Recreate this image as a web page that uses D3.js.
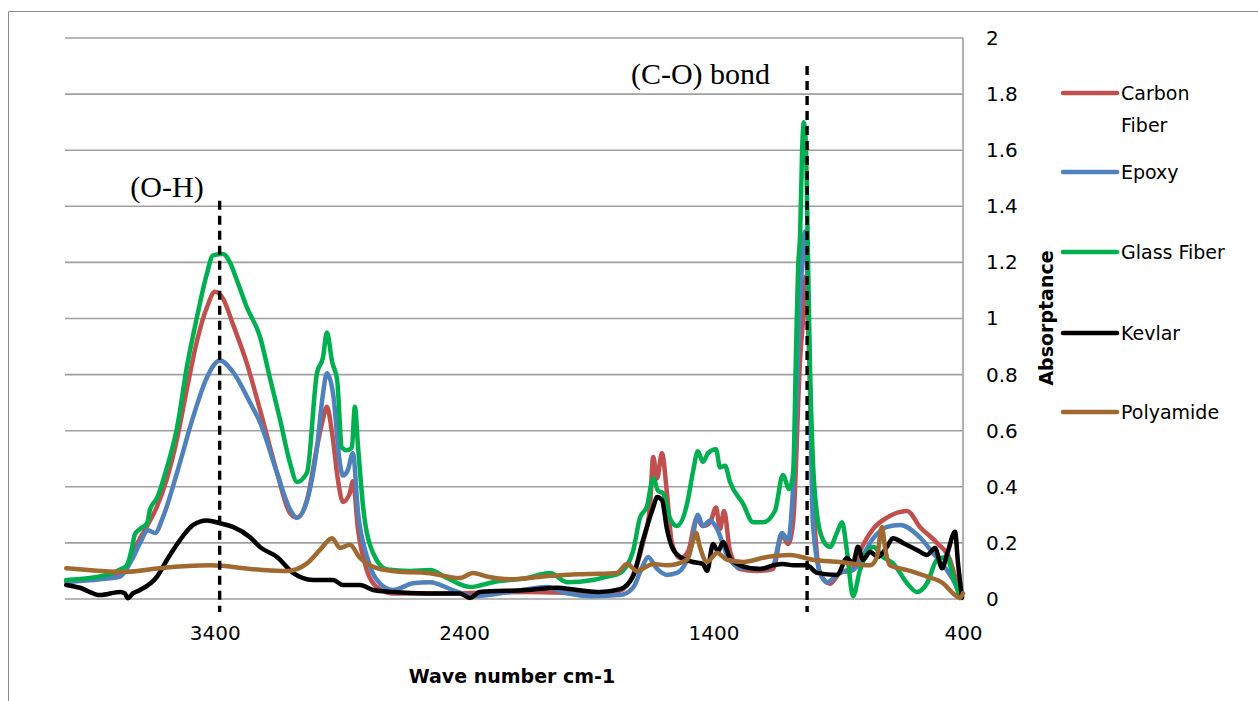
<!DOCTYPE html>
<html>
<head>
<meta charset="utf-8">
<script src="https://cdn.jsdelivr.net/npm/d3@7"></script>
<style>
  html, body { margin: 0; padding: 0; background: #fff; }
  svg { display: block; }
</style>
</head>
<body>
<svg id="chart" width="1258" height="701"></svg>
<script>
// ---------------- DATA ----------------
const seriesNames = ["Carbon Fiber", "Epoxy", "Glass Fiber", "Kevlar", "Polyamide"];
const seriesColors = ["#C0504D", "#4F81BD", "#00B050", "#000000", "#A0692F"];
const xTicks = [3400, 2400, 1400, 400];
const yTicks = [0, 0.2, 0.4, 0.6, 0.8, 1, 1.2, 1.4, 1.6, 1.8, 2];
const yTickLabels = ["0", "0.2", "0.4", "0.6", "0.8", "1", "1.2", "1.4", "1.6", "1.8", "2"];
const annotations = [
  { label: "(O-H)", wave: 3380, top: 1.42, labelAt: 1.433 },
  { label: "(C-O) bond", wave: 1025, top: 1.9, labelAt: 1.836 }
];

// [wave number, absorptance]
const carbonFiber = [
  [3995,0.065],[3860,0.075],[3779,0.09],[3752,0.11],[3720,0.18],[3671,0.26],[3631,0.33],[3591,0.43],
  [3551,0.57],[3511,0.75],[3471,0.92],[3431,1.04],[3399,1.095],[3366,1.07],[3327,0.98],[3271,0.84],
  [3218,0.674],[3150,0.45],[3098,0.306],[3070,0.29],[3030,0.353],[2990,0.54],[2966,0.64],[2950,0.685],
  [2929,0.59],[2905,0.42],[2886,0.346],[2858,0.378],[2846,0.42],[2825,0.245],[2789,0.1],[2750,0.043],
  [2685,0.02],[2496,0.02],[2148,0.025],[1855,0.02],[1775,0.03],[1723,0.085],[1683,0.2],[1655,0.33],
  [1642,0.506],[1626,0.43],[1607,0.52],[1587,0.38],[1567,0.2],[1534,0.146],[1502,0.17],[1467,0.288],
  [1443,0.26],[1414,0.274],[1390,0.326],[1374,0.25],[1358,0.314],[1334,0.17],[1294,0.107],[1226,0.1],
  [1162,0.107],[1126,0.228],[1101,0.196],[1081,0.274],[1053,0.856],[1041,1.0],[1030,1.15],[1018,0.9],
  [1002,0.40],[973,0.093],[933,0.054],[894,0.093],[841,0.11],[813,0.17],[760,0.25],[705,0.29],
  [624,0.314],[573,0.257],[504,0.2],[452,0.14],[424,0.056],[404,0.008]
];
const epoxy = [
  [3995,0.06],[3860,0.07],[3779,0.08],[3732,0.14],[3699,0.2],[3667,0.245],[3639,0.235],[3608,0.29],
  [3551,0.45],[3486,0.65],[3431,0.79],[3379,0.85],[3327,0.81],[3258,0.70],[3218,0.63],[3150,0.45],
  [3098,0.32],[3070,0.29],[3030,0.35],[2990,0.54],[2966,0.73],[2950,0.805],[2925,0.73],[2898,0.485],
  [2886,0.44],[2866,0.46],[2846,0.52],[2825,0.306],[2789,0.15],[2750,0.068],[2685,0.032],[2605,0.056],
  [2537,0.06],[2445,0.032],[2364,0.01],[2216,0.025],[2067,0.043],[1988,0.02],[1884,0.01],[1775,0.014],
  [1723,0.04],[1683,0.12],[1663,0.15],[1626,0.107],[1587,0.086],[1547,0.093],[1494,0.17],[1463,0.3],
  [1443,0.26],[1414,0.28],[1386,0.25],[1346,0.157],[1294,0.112],[1214,0.107],[1162,0.12],[1126,0.235],
  [1101,0.21],[1081,0.4],[1053,1.05],[1034,1.31],[1014,0.79],[1002,0.274],[973,0.093],[945,0.06],
  [894,0.093],[841,0.103],[760,0.217],[705,0.257],[652,0.264],[573,0.22],[520,0.164],[465,0.103],
  [424,0.043],[404,0.008]
];
const glassFiber = [
  [3995,0.068],[3860,0.08],[3779,0.105],[3752,0.12],[3732,0.18],[3720,0.23],[3699,0.25],[3671,0.27],
  [3659,0.32],[3631,0.36],[3591,0.47],[3551,0.61],[3511,0.83],[3471,1.005],[3431,1.16],[3407,1.225],
  [3366,1.23],[3339,1.20],[3311,1.137],[3271,1.04],[3218,0.934],[3179,0.79],[3138,0.64],[3098,0.485],
  [3070,0.417],[3030,0.45],[2990,0.805],[2966,0.86],[2950,0.95],[2929,0.845],[2909,0.78],[2890,0.54],
  [2870,0.53],[2850,0.54],[2838,0.685],[2825,0.54],[2805,0.33],[2765,0.164],[2709,0.105],[2617,0.10],
  [2537,0.103],[2469,0.075],[2376,0.043],[2284,0.06],[2148,0.075],[2055,0.093],[1988,0.06],[1884,0.068],
  [1827,0.08],[1775,0.093],[1723,0.17],[1695,0.29],[1667,0.33],[1642,0.43],[1622,0.385],[1603,0.378],
  [1575,0.288],[1547,0.26],[1506,0.34],[1482,0.456],[1463,0.527],[1443,0.489],[1422,0.52],[1390,0.534],
  [1374,0.469],[1354,0.475],[1334,0.417],[1282,0.34],[1242,0.274],[1201,0.274],[1154,0.314],[1122,0.442],
  [1097,0.392],[1081,0.45],[1069,0.9],[1061,1.18],[1053,1.30],[1045,1.60],[1038,1.70],[1030,1.62],
  [1022,1.25],[1014,0.85],[1002,0.5],[985,0.3],[961,0.21],[933,0.186],[905,0.237],[885,0.274],
  [865,0.17],[841,0.01],[813,0.103],[785,0.164],[760,0.186],[721,0.15],[681,0.128],[624,0.056],
  [585,0.025],[544,0.056],[504,0.14],[465,0.15],[440,0.08],[412,0.004]
];
const kevlar = [
  [3995,0.05],[3940,0.04],[3860,0.014],[3779,0.025],[3760,0.02],[3748,0.003],[3728,0.02],[3699,0.032],
  [3631,0.08],[3591,0.14],[3539,0.21],[3486,0.264],[3431,0.28],[3379,0.27],[3327,0.257],[3258,0.22],
  [3218,0.185],[3150,0.15],[3086,0.093],[3006,0.068],[2925,0.068],[2886,0.05],[2817,0.05],[2765,0.032],
  [2685,0.025],[2549,0.02],[2417,0.02],[2376,0.004],[2337,0.025],[2148,0.032],[2028,0.04],[1947,0.032],
  [1855,0.025],[1775,0.035],[1723,0.08],[1683,0.21],[1642,0.326],[1626,0.364],[1607,0.353],[1587,0.25],
  [1567,0.186],[1534,0.15],[1482,0.132],[1443,0.125],[1426,0.1],[1402,0.196],[1382,0.17],[1362,0.203],
  [1334,0.146],[1294,0.12],[1214,0.107],[1162,0.12],[1122,0.125],[1081,0.12],[1026,0.12],[985,0.093],
  [905,0.086],[865,0.146],[841,0.128],[821,0.186],[801,0.14],[772,0.168],[741,0.15],[705,0.186],
  [681,0.217],[640,0.2],[585,0.175],[544,0.157],[512,0.182],[484,0.11],[461,0.168],[432,0.24],
  [420,0.128],[404,0.004]
];
const polyamide = [
  [3995,0.11],[3752,0.097],[3620,0.11],[3419,0.12],[3218,0.104],[3110,0.10],[3030,0.127],[2978,0.175],
  [2929,0.217],[2898,0.182],[2858,0.193],[2817,0.146],[2750,0.11],[2657,0.097],[2549,0.093],[2417,0.075],
  [2364,0.093],[2309,0.08],[2216,0.07],[2084,0.08],[2016,0.085],[1907,0.089],[1787,0.093],[1747,0.125],
  [1707,0.1],[1642,0.125],[1587,0.12],[1506,0.14],[1486,0.196],[1470,0.235],[1455,0.186],[1426,0.132],
  [1386,0.164],[1346,0.14],[1282,0.132],[1185,0.15],[1093,0.157],[1002,0.14],[894,0.132],[772,0.12],
  [745,0.15],[725,0.257],[713,0.186],[693,0.12],[624,0.103],[544,0.08],[480,0.056],[440,0.02],
  [412,0.004],[400,0.02]
];
const seriesData = [carbonFiber, epoxy, glassFiber, kevlar, polyamide];

// ---------------- CHART ----------------
const SANS = "'DejaVu Sans', sans-serif";
const SERIF = "'Liberation Serif', 'Times New Roman', serif";
const svg = d3.select("#chart");
const x = d3.scaleLinear().domain([4000, 400]).range([65, 963]);
const y = d3.scaleLinear().domain([0, 2]).range([599, 38]);

// outer chart border
svg.append("path")
  .attr("d", "M8.5,701 L8.5,11.5 L1258,11.5")
  .attr("fill", "none").attr("stroke", "#8c8c8c").attr("stroke-width", 1);

// gridlines
svg.append("g").selectAll("line").data(yTicks).join("line")
  .attr("x1", x(4000)).attr("x2", x(400))
  .attr("y1", d => y(d)).attr("y2", d => y(d))
  .attr("stroke", "#a0a0a0").attr("stroke-width", 1.6);

// right plot border
svg.append("line")
  .attr("x1", x(400)).attr("x2", x(400)).attr("y1", y(2)).attr("y2", y(0))
  .attr("stroke", "#a0a0a0").attr("stroke-width", 1.6);

// y-axis labels (right side)
const yAxis = d3.axisRight(y).tickValues(yTicks).tickSize(0).tickPadding(23)
  .tickFormat((d, i) => yTickLabels[i]);
const gy = svg.append("g").attr("transform", `translate(${x(400)},0)`).call(yAxis);
gy.select(".domain").remove();
gy.selectAll("text").style("font-family", SANS).style("font-size", "20px").attr("fill", "#000");

// x-axis labels
const xAxis = d3.axisBottom(x).tickValues(xTicks).tickSize(0).tickPadding(27).tickFormat(d3.format("d"));
const gx = svg.append("g").attr("transform", `translate(0,${y(0)})`).call(xAxis);
gx.select(".domain").remove();
gx.selectAll("text").style("font-family", SANS).style("font-size", "20px").attr("fill", "#000");

// series lines
const line = d3.line().x(d => x(d[0])).y(d => y(d[1])).curve(d3.curveMonotoneX);
svg.append("g").selectAll("path").data(seriesData).join("path")
  .attr("d", d => line(d))
  .attr("fill", "none")
  .attr("stroke", (d, i) => seriesColors[i])
  .attr("stroke-width", 4.5)
  .attr("stroke-linejoin", "round")
  .attr("stroke-linecap", "round");

// dashed annotation lines and labels
const labelGap = [16, 37];
const ann = svg.append("g");
ann.selectAll("line").data(annotations).join("line")
  .attr("x1", d => x(d.wave)).attr("x2", d => x(d.wave))
  .attr("y1", d => y(d.top)).attr("y2", y(0) + 13)
  .attr("stroke", "#000").attr("stroke-width", 3.4).attr("stroke-dasharray", "9,6");
ann.selectAll("text").data(annotations).join("text")
  .attr("x", (d, i) => x(d.wave) - labelGap[i])
  .attr("y", d => y(d.labelAt))
  .attr("text-anchor", "end")
  .style("font-family", SERIF)
  .style("font-size", "30px")
  .text(d => d.label);

// axis titles
svg.append("text")
  .attr("x", 512).attr("y", 683)
  .attr("text-anchor", "middle")
  .style("font-family", SANS).style("font-weight", "bold").style("font-size", "19px")
  .text("Wave number cm-1");
svg.append("text")
  .attr("transform", "translate(1053,318) rotate(-90)")
  .attr("text-anchor", "middle")
  .style("font-family", SANS).style("font-weight", "bold").style("font-size", "19px")
  .text("Absorptance");

// legend
const legendY = [93, 172, 252, 333, 412];
const legendLines = [["Carbon", "Fiber"], ["Epoxy"], ["Glass Fiber"], ["Kevlar"], ["Polyamide"]];
const lg = svg.append("g");
seriesNames.forEach((name, i) => {
  lg.append("line")
    .attr("x1", 1063).attr("x2", 1117).attr("y1", legendY[i]).attr("y2", legendY[i])
    .attr("stroke", seriesColors[i]).attr("stroke-width", 4.5).attr("stroke-linecap", "round");
  const t = lg.append("text").attr("x", 1121).attr("y", legendY[i] + 7)
    .style("font-family", SANS).style("font-size", "19px");
  legendLines[i].forEach((s, j) => {
    t.append("tspan").attr("x", 1121).attr("dy", j === 0 ? 0 : 32).text(s);
  });
});
</script>
</body>
</html>
